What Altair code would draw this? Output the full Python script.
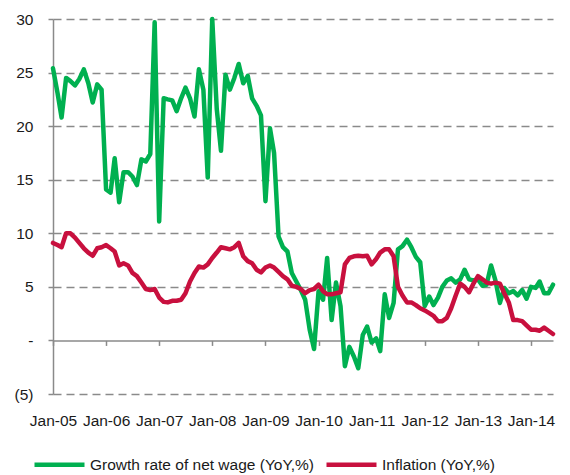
import altair as alt
import pandas as pd

# Monthly observations Jan-2005 .. Jun-2014
months = pd.date_range("2005-01-01", periods=114, freq="MS").strftime("%Y-%m-%dT00:00:00").tolist()

wage_growth = [
    25.4, 23.1, 20.8, 24.5, 24.2, 23.8, 24.4, 25.3, 24.0, 22.2, 23.9, 23.4,
    14.1, 13.8, 17.0, 12.9, 15.7, 15.7, 15.3, 14.5, 16.9, 16.7, 17.4, 29.7,
    11.1, 22.6, 22.5, 22.4, 21.4, 22.6, 23.6, 22.6, 20.9, 25.3, 23.4, 15.2,
    30.0, 21.6, 17.7, 24.8, 23.4, 24.5, 25.8, 24.0, 24.7, 22.6, 21.9, 21.0,
    13.0, 19.8, 17.5, 9.7, 8.7, 8.3, 6.3, 5.5, 4.7, 3.8, 1.0, -0.8,
    4.6, 3.8, 7.7, 1.9, 5.4, 3.2, -2.4, -0.6, -1.5, -2.6, 0.5, 1.3,
    -0.2, 0.2, -1.0, 4.3, 2.1, 3.5, 8.5, 8.8, 9.4, 8.7, 7.8, 7.3,
    3.2, 4.1, 3.3, 4.0, 5.0, 5.6, 5.8, 5.4, 5.7, 6.6, 5.7, 5.6,
    5.7, 5.1, 5.2, 7.0, 5.6, 3.5, 4.9, 4.4, 4.6, 4.2, 4.7, 3.9,
    5.0, 4.9, 5.5, 4.4, 4.4, 5.2,
]

inflation = [
    9.1, 8.9, 8.7, 10.0, 10.0, 9.6, 9.1, 8.6, 8.2, 7.9, 8.6, 8.7,
    8.9, 8.6, 8.3, 7.0, 7.2, 7.0, 6.3, 6.0, 5.4, 4.8, 4.7, 4.8,
    4.0, 3.6, 3.55, 3.7, 3.7, 3.8, 4.4, 5.5, 6.3, 6.9, 6.8, 7.1,
    7.7, 8.2, 8.7, 8.6, 8.5, 8.7, 9.1, 7.85, 7.4, 7.2, 6.6, 6.35,
    6.8, 7.0, 6.8, 6.4, 6.0, 5.7, 5.1, 5.0, 4.8, 4.4, 4.7, 4.8,
    5.2, 4.6, 4.3, 4.3, 4.4, 4.5, 7.1, 7.7, 7.85, 7.9, 7.85, 7.9,
    7.1, 7.6, 8.2, 8.5, 8.5, 7.85, 5.0, 4.2, 3.55, 3.55, 3.3, 3.0,
    2.8, 2.55, 2.3, 1.8, 1.8, 2.1, 3.0, 4.2, 5.3, 5.0, 4.5, 5.3,
    6.0, 5.7, 5.4, 5.3, 5.4, 5.3, 4.4, 3.55, 1.9, 1.9, 1.8, 1.4,
    1.0, 1.0, 0.9, 1.2, 0.9, 0.6,
]

series_names = ["Growth rate of net wage (YoY,%)", "Inflation (YoY,%)"]
series_colors = ["#00B050", "#C8103E"]
y_ticks = [-5, 0, 5, 10, 15, 20, 25, 30]
x_tick_years = list(range(2005, 2015))

df = pd.concat([
    pd.DataFrame({"month": months, "series": series_names[0], "value": wage_growth}),
    pd.DataFrame({"month": months, "series": series_names[1], "value": inflation}),
], ignore_index=True)

W, H = 500, 375
zero_offset = -(H - H * 30 / 35)

axis_gray = "#8a8a8a"
text_col = "#1a1a1a"

x_enc = alt.X(
    "month:T",
    title=None,
    scale=alt.Scale(domain=[alt.DateTime(year=2005, month=1, date=1),
                            alt.DateTime(year=2014, month=6, date=1)]),
    axis=alt.Axis(
        values=[alt.DateTime(year=y, month=1, date=1) for y in x_tick_years],
        format="%b-%y",
        offset=zero_offset,
        tickSize=5,
        tickWidth=1.5,
        tickColor=axis_gray,
        domainColor=axis_gray,
        domainWidth=1.5,
        labelPadding=68,
        labelFlush=False,
        labelOverlap=False,
        labelBound=False,
        labelFontSize=15.5,
        labelColor=text_col,
        grid=False,
    ),
)

y_enc = alt.Y(
    "value:Q",
    title=None,
    scale=alt.Scale(domain=[-5, 30], nice=False, zero=False),
    axis=alt.Axis(
        values=y_ticks,
        labelExpr="datum.value == 0 ? '-' : (datum.value < 0 ? '(' + (-datum.value) + ')' : datum.label)",
        grid=True,
        gridDash=[8, 5],
        gridColor=axis_gray,
        gridWidth=1.5,
        gridOpacity={"condition": {"test": "datum.value == 0", "value": 0}, "value": 1},
        tickSize=5,
        tickWidth=1.5,
        tickColor=axis_gray,
        domainColor=axis_gray,
        domainWidth=1.5,
        labelPadding=15,
        labelFontSize=15.5,
        labelColor=text_col,
    ),
)

color_enc = alt.Color(
    "series:N",
    scale=alt.Scale(domain=series_names, range=series_colors),
    legend=alt.Legend(
        orient="none",
        legendX=-21,
        legendY=418,
        direction="horizontal",
        symbolType="stroke",
        symbolSize=2500,
        symbolStrokeWidth=4.5,
        labelFontSize=15.5,
        labelColor=text_col,
        labelLimit=400,
        labelOffset=3,
        columnPadding=2,
        padding=0,
        title=None,
    ),
)

base = alt.Chart(df).encode(x=x_enc, y=y_enc, color=color_enc)

green = base.transform_filter(alt.datum.series == series_names[0]).mark_line(
    strokeWidth=4.5, strokeJoin="round", strokeCap="round")
red = base.transform_filter(alt.datum.series == series_names[1]).mark_line(
    strokeWidth=4.5, strokeJoin="round", strokeCap="round")

chart = alt.layer(green, red).properties(
    width=W, height=H,
    autosize=alt.AutoSizeParams(type="none"),
    padding={"left": 53, "top": 19, "right": 17, "bottom": 81},
).configure(font="Liberation Sans").configure_view(stroke=None)

chart.save("out.html", embed_options={"renderer": "svg", "actions": False})
